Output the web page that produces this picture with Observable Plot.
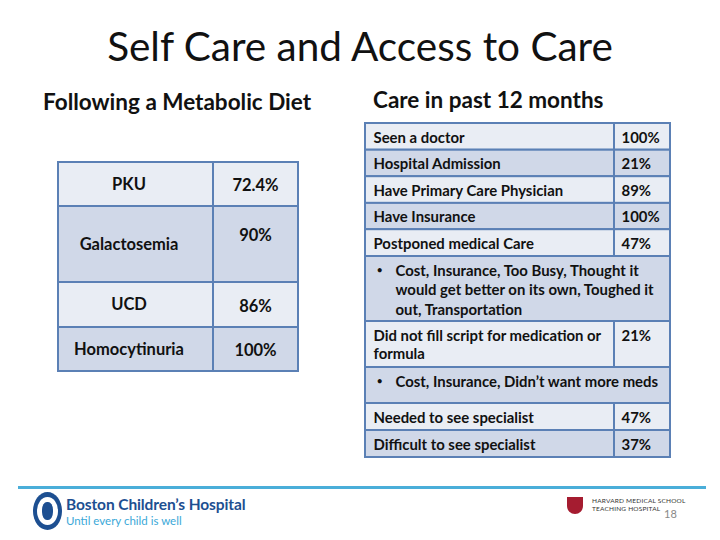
<!DOCTYPE html>
<html>
<head>
<meta charset="utf-8">
<script src="https://cdn.jsdelivr.net/npm/d3@7"></script>
<script src="https://cdn.jsdelivr.net/npm/@observablehq/plot@0.6"></script>
<style>
  html, body { margin: 0; padding: 0; background: #fff; }
  #slide { position: relative; width: 720px; height: 540px; overflow: hidden; font-family: Lato, "Open Sans", sans-serif; color: #111; }
  .abs { position: absolute; white-space: nowrap; line-height: 1.2; }
  #title { left: 0; width: 720px; top: 22px; text-align: center; font-size: 40.5px; font-weight: 400; color: #111; }
  .sub { font-size: 22.5px; font-weight: 700; }
  #dietTable, #careTable { position: absolute; }
  #rule { position: absolute; left: 18px; top: 486px; width: 688px; height: 3px; background: #4aaed9; }
  #logo { position: absolute; left: 33px; top: 492px; width: 29px; height: 38px; border-radius: 50%; background: #1d4f91; }
  #logo::after { content: ""; position: absolute; left: 4px; top: 5px; width: 21px; height: 28px; border-radius: 50%; background: #fff; }
  #logo::before { content: ""; position: absolute; left: 9px; top: 10px; width: 11px; height: 18px; border-radius: 45%; background: #1d4f91; z-index: 2; }
  #bch { left: 66px; top: 496.5px; font-size: 15.5px; line-height: 1; font-weight: 700; color: #1d4f91; letter-spacing: -0.1px; }
  #until { left: 66px; top: 514.8px; font-size: 11.5px; line-height: 1; font-weight: 400; color: #3aa8d8; }
  #shield { position: absolute; left: 567px; top: 497px; width: 16px; height: 17px; background: #a51c30; border-radius: 0 0 8px 8px; }
  .hms { font-size: 6.5px; line-height: 1; color: #333; letter-spacing: 0.2px; }
  #page { left: 664px; top: 508px; font-size: 11px; line-height: 1; color: #888; }
</style>
</head>
<body>
<div id="slide">
  <div id="title" class="abs">Self Care and Access to Care</div>
  <div class="abs sub" id="sub1" style="left:43px; top:88px;">Following a Metabolic Diet</div>
  <div class="abs sub" id="sub2" style="left:373px; top:86px;">Care in past 12 months</div>
  <div id="dietTable" style="left:56px; top:160px;"></div>
  <div id="careTable" style="left:363px; top:121px;"></div>
  <div id="rule"></div>
  <div id="logo"></div>
  <div id="bch" class="abs">Boston Children’s Hospital</div>
  <div id="until" class="abs">Until every child is well</div>
  <div id="shield"></div>
  <div class="abs hms" style="left:592px; top:498px;">HARVARD MEDICAL SCHOOL</div>
  <div class="abs hms" style="left:592px; top:506px;">TEACHING HOSPITAL</div>
  <div id="page" class="abs">18</div>
</div>
<script>
// ---------------- data ----------------
const dietConditions = ["PKU", "Galactosemia", "UCD", "Homocytinuria"];
const dietRates = ["72.4%", "90%\n", "86%", "100%"];

const careMeasures = [
  "Seen a doctor",
  "Hospital Admission",
  "Have Primary Care Physician",
  "Have Insurance",
  "Postponed medical Care",
  "Cost, Insurance, Too Busy, Thought it\nwould get better on its own, Toughed it\nout, Transportation",
  "Did not fill script for medication or\nformula",
  "Cost, Insurance, Didn’t want more meds",
  "Needed to see specialist",
  "Difficult to see specialist"
];
const careRates = ["100%", "21%", "89%", "100%", "47%", "", "21%", "", "47%", "37%"];
const careRowKind = ["item", "item", "item", "item", "item", "reason", "item", "reason", "item", "item"];

// ---------------- layout / style ----------------
const BORDER = "#5b80b5", LIGHT = "#e9edf4", DARK = "#d0d8e8", INK = "#111";
const FONT = "Lato, 'Open Sans', sans-serif";
const M = 2;
const dietColEdges = [0, 155, 240];
const dietRowHeights = [44, 76, 45, 44];
const careColEdges = [0, 249, 305];
const careRowHeights = [26.7, 26.5, 26.7, 26.3, 26.8, 65, 46, 36, 27, 27];

function tops(h) { const t = [0]; h.forEach((v, i) => t.push(t[i] + v)); return t; }

// ---------------- left table ----------------
const dT = tops(dietRowHeights);
const dW = dietColEdges[dietColEdges.length - 1], dH = dT[dT.length - 1];
const dietRows = dietConditions.map((c, i) => ({
  condition: c, rate: dietRates[i], y1: dT[i], y2: dT[i + 1], fill: i % 2 ? DARK : LIGHT
}));
const dietCells = dietRows.flatMap(r => [0, 1].map(j => ({...r, x1: dietColEdges[j], x2: dietColEdges[j + 1]})));
const DFS = 16.5;

const dietPlot = Plot.plot({
  width: dW + 2 * M, height: dH + 2 * M, margin: M,
  x: {domain: [0, dW], range: [M, M + dW], axis: null},
  y: {domain: [0, dH], range: [M, M + dH], axis: null},
  color: {type: "identity"},
  style: {fontFamily: FONT, background: "transparent", overflow: "visible"},
  marks: [
    Plot.rect(dietCells, {x1: "x1", x2: "x2", y1: "y1", y2: "y2", fill: "fill", stroke: BORDER, strokeWidth: 2}),
    Plot.text(dietRows, {
      x: () => (dietColEdges[0] + dietColEdges[1]) / 2 - 7, y: r => (r.y1 + r.y2) / 2,
      text: "condition", fontSize: DFS, fontWeight: "bold", fill: INK, lineAnchor: "middle"
    }),
    Plot.text(dietRows, {
      x: () => (dietColEdges[1] + dietColEdges[2]) / 2 - 0.5, y: r => (r.y1 + r.y2) / 2,
      text: "rate", fontSize: DFS, fontWeight: "bold", fill: INK, lineAnchor: "middle", lineHeight: 1.3
    })
  ]
});
document.getElementById("dietTable").append(dietPlot);

// ---------------- right table ----------------
const cT = tops(careRowHeights);
const cW = careColEdges[careColEdges.length - 1], cH = cT[cT.length - 1];
const careRows = careMeasures.map((m, i) => ({
  measure: m, rate: careRates[i], kind: careRowKind[i], y1: cT[i], y2: cT[i + 1], fill: i % 2 ? DARK : LIGHT
}));
const careCells = careRows.flatMap(r => r.kind === "reason"
  ? [{...r, x1: careColEdges[0], x2: careColEdges[2]}]
  : [0, 1].map(j => ({...r, x1: careColEdges[j], x2: careColEdges[j + 1]})));
const items = careRows.filter(r => r.kind === "item");
const reasons = careRows.filter(r => r.kind === "reason");
const PAD = 8.5, FS = 14.9;
// Plot scales the top-line offset by lineHeight; compensate so first lines align
const padFor = lh => PAD - 0.71 * (lh - 1) * FS;
const LH_ITEM = 1.25, LH_REASON = 1.32;

const carePlot = Plot.plot({
  width: cW + 2 * M, height: cH + 2 * M, margin: M,
  x: {domain: [0, cW], range: [M, M + cW], axis: null},
  y: {domain: [0, cH], range: [M, M + cH], axis: null},
  color: {type: "identity"},
  style: {fontFamily: FONT, background: "transparent", overflow: "visible"},
  marks: [
    Plot.rect(careCells, {x1: "x1", x2: "x2", y1: "y1", y2: "y2", fill: "fill", stroke: BORDER, strokeWidth: 2}),
    Plot.text(items, {
      x: () => careColEdges[0] + 8, y: r => r.y1 + padFor(LH_ITEM), text: "measure",
      textAnchor: "start", lineAnchor: "top", lineHeight: LH_ITEM, fontSize: FS, fontWeight: "bold", fill: INK
    }),
    Plot.text(items, {
      x: () => careColEdges[1] + 7, y: r => r.y1 + PAD, text: "rate",
      textAnchor: "start", lineAnchor: "top", fontSize: FS, fontWeight: "bold", fill: INK
    }),
    Plot.text(reasons, {
      x: () => careColEdges[0] + 11, y: r => r.y1 + PAD + 1, text: () => "•",
      textAnchor: "start", lineAnchor: "top", fontSize: 11, fontWeight: "normal", fill: INK
    }),
    Plot.text(reasons, {
      x: () => careColEdges[0] + 30, y: r => r.y1 + padFor(LH_REASON), text: "measure",
      textAnchor: "start", lineAnchor: "top", lineHeight: LH_REASON, fontSize: FS, fontWeight: "bold", fill: INK
    })
  ]
});
document.getElementById("careTable").append(carePlot);
</script>
</body>
</html>
